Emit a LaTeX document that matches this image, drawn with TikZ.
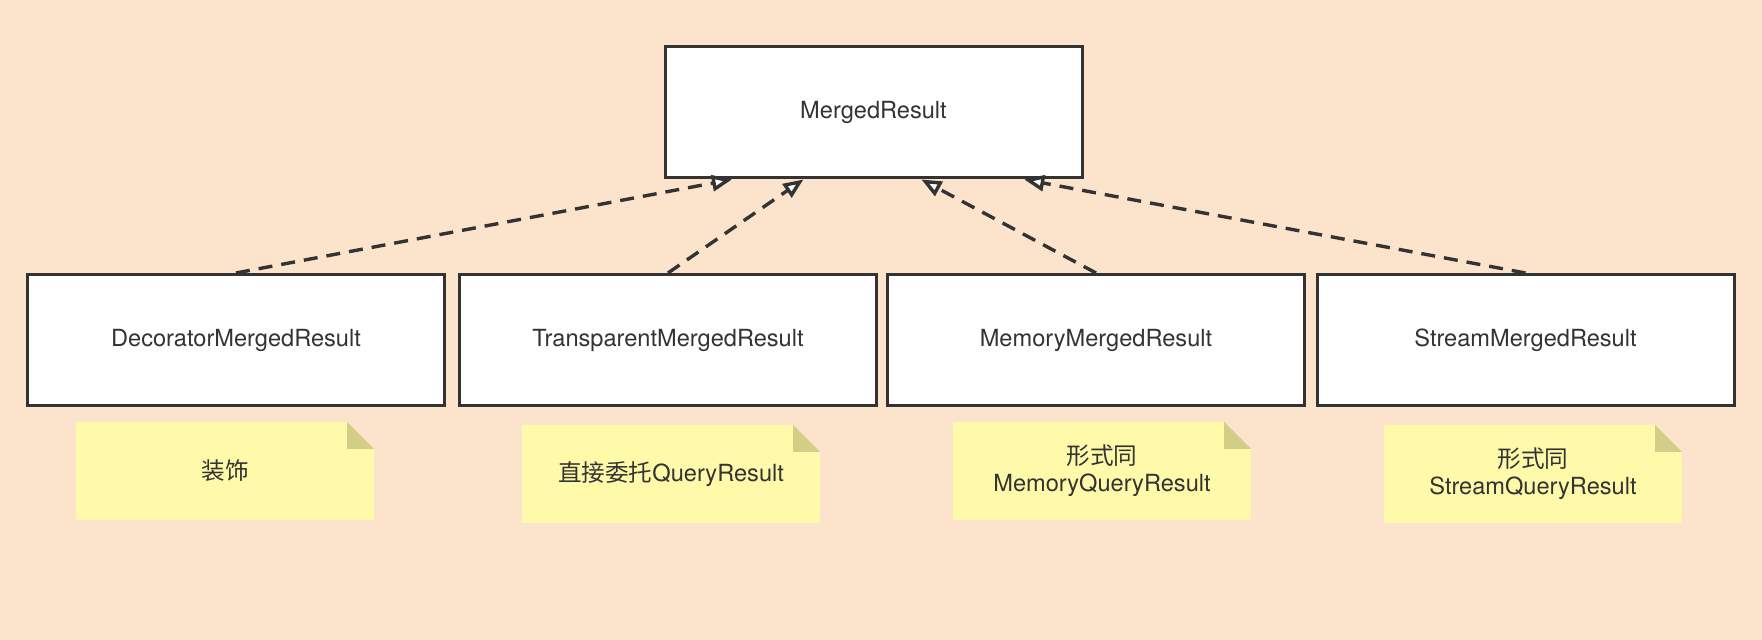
\documentclass[tikz,border=0pt]{standalone}
\usepackage{fontspec}
\setmainfont{TeX Gyre Heros}
\newfontfamily\cjk{Noto Sans CJK SC}
\usetikzlibrary{arrows.meta,calc}
\definecolor{bgpeach}{HTML}{FCE4CC}
\definecolor{noteyellow}{HTML}{FFFAAA}
\definecolor{notefold}{HTML}{D3CD88}
\definecolor{inkgray}{HTML}{333333}
\tikzstyle{classbox}=[draw=inkgray, line width=1.5pt, fill=white, text=inkgray, minimum width=208.5pt, minimum height=65.5pt, inner sep=0pt, font=\fontsize{11.8}{13.5}\selectfont]
\tikzstyle{notetext}=[text=inkgray, align=center, inner sep=0pt, font=\fontsize{11.8}{13.5}\selectfont]
\tikzstyle{realizes}=[draw=inkgray, line width=1.7pt, dash pattern=on 7pt off 4.5pt, -{Triangle[fill=white, length=10pt, width=8pt]}]
\newcommand{\noteW}{298}
\newcommand{\noteH}{98}
\newcommand{\noteF}{27}
\newcommand{\stickynote}[4]{
\fill[noteyellow] (#2,#3) -- ++(\noteW-\noteF,0) -- ++(\noteF,\noteF) -- ++(0,\noteH-\noteF) -- ++(-\noteW,0) -- cycle;
\fill[notefold] (#2+\noteW-\noteF,#3) -- ++(0,\noteF) -- ++(\noteF,0) -- cycle;
\node[notetext] (#1) at (#2+\noteW/2,#3+\noteH/2) {#4};
}

\begin{document}
\begin{tikzpicture}[x=0.5pt,y=-0.5pt]
\fill[bgpeach] (0,0) rectangle (1762,640);
\useasboundingbox (0,0) rectangle (1762,640);
\node[classbox] (merged) at (873.5,112.5) {MergedResult};
\foreach \nm/\cx/\txt in {decorator/236/DecoratorMergedResult, transparent/668/TransparentMergedResult, memory/1096/MemoryMergedResult, stream/1525.5/StreamMergedResult} {
	\node[classbox] (\nm) at (\cx,340) {\txt};
}
% where the arrows meet the parent
\coordinate (m1) at ($(merged.south west)!.163!(merged.south east)$);
\coordinate (m2) at ($(merged.south west)!.333!(merged.south east)$);
\coordinate (m3) at ($(merged.south west)!.614!(merged.south east)$);
\coordinate (m4) at ($(merged.south west)!.859!(merged.south east)$);
\draw[realizes] (decorator.north) -- (m1);
\draw[realizes] (transparent.north) -- (m2);
\draw[realizes] (memory.north) -- (m3);
\draw[realizes] (stream.north) -- (m4);
\stickynote{note1}{76}{422}{\cjk 装饰}
\stickynote{note2}{522}{425}{\cjk 直接委托\rmfamily QueryResult}
\stickynote{note3}{953}{422}{\cjk 形式同\\MemoryQueryResult}
\stickynote{note4}{1384}{425}{\cjk 形式同\\StreamQueryResult}
\end{tikzpicture}
\end{document}
